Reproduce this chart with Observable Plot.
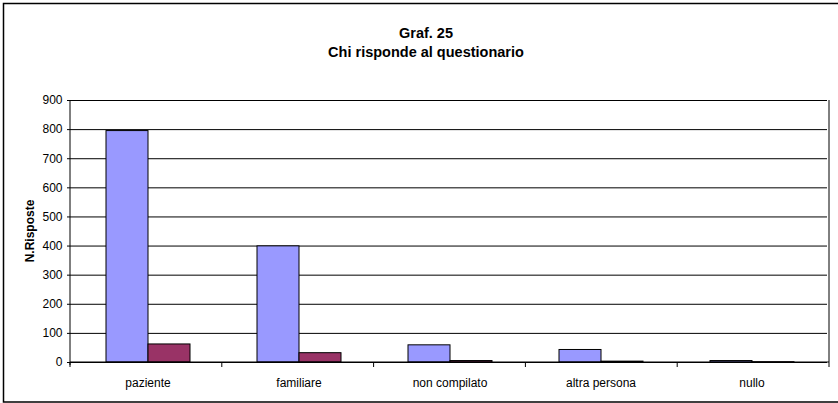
<!DOCTYPE html>
<html><head><meta charset="utf-8">
<script src="https://cdn.jsdelivr.net/npm/d3@7"></script>
<script src="https://cdn.jsdelivr.net/npm/@observablehq/plot@0.6"></script>
<style>body{margin:0;background:#fff;} #chart{width:838px;height:403px;}</style>
</head><body><div id="chart"></div>
<script>
const categories = ["paziente", "familiare", "non compilato", "altra persona", "nullo"];
const series = ["Serie 1", "Serie 2"];
const values1 = [795, 399, 59, 43, 5];
const values2 = [62, 32, 5, 3, 1];
const yTicks = [0, 100, 200, 300, 400, 500, 600, 700, 800, 900];
const titleLines = ["Graf. 25", "Chi risponde al questionario"];
const yLabel = "N.Risposte";
const colors = ["#9999FF", "#993366"];

const data = categories.flatMap((c, i) => [
  {category: c, series: series[0], value: values1[i]},
  {category: c, series: series[1], value: values2[i]}
]);

const font = "Arial, 'Liberation Sans', sans-serif";
const plot = Plot.plot({
  width: 838, height: 403,
  marginTop: 100, marginBottom: 41, marginLeft: 70, marginRight: 9,
  style: {fontFamily: font, fontSize: "12px", background: "#fff", color: "#000", overflow: "visible"},
  fx: {domain: categories, padding: 0, label: null, axis: "bottom", tickSize: 0, tickPadding: 16},
  x: {domain: series, axis: null, paddingInner: 0, paddingOuter: 0.763},
  y: {domain: [0, 900], ticks: yTicks, tickSize: 5, tickPadding: 5, label: null},
  color: {domain: series, range: colors},
  marks: [
    Plot.gridY(yTicks, {stroke: "#000", strokeOpacity: 1, strokeWidth: 1}),
    Plot.barY(data, {fx: "category", x: "series", y: "value", fill: "series", stroke: "#000", strokeWidth: 1})
  ]
});
document.getElementById("chart").appendChild(plot);

const svg = d3.select(plot);
const fx = plot.scale("fx");
const y = plot.scale("y");
const [x0, x1] = fx.range;
const yb = y.apply(0), yt = y.apply(900);
const g = svg.append("g").attr("stroke", "#000").attr("fill", "none");
// outer border
g.append("rect").attr("x", 3.5).attr("y", 3.5).attr("width", 838).attr("height", 398.5).attr("stroke", "#000").attr("stroke-width", 1.5);
// y axis line
g.append("line").attr("x1", x0).attr("x2", x0).attr("y1", yt).attr("y2", yb + 3);
// right frame line
g.append("line").attr("x1", x1).attr("x2", x1).attr("y1", yt).attr("y2", yb);
// x axis line
g.append("line").attr("x1", x0).attr("x2", x1).attr("y1", yb).attr("y2", yb);
// category boundary ticks
const step = (x1 - x0) / categories.length;
for (let i = 0; i <= categories.length; i++) {
  const xx = x0 + i * step;
  g.append("line").attr("x1", xx).attr("x2", xx).attr("y1", yb).attr("y2", yb + 5);
}
// titles
const tg = svg.append("g").attr("font-family", font).attr("font-weight", "bold").attr("font-size", 14.5).attr("text-anchor", "middle").attr("fill", "#000");
tg.append("text").attr("x", 426).attr("y", 38).text(titleLines[0]);
tg.append("text").attr("x", 426).attr("y", 57).text(titleLines[1]);
svg.append("text").attr("transform", `translate(34,${(yt + yb) / 2}) rotate(-90)`)
  .attr("text-anchor", "middle").attr("font-family", font).attr("font-weight", "bold").attr("font-size", 12).attr("fill", "#000").text(yLabel);
</script>
</body></html>
